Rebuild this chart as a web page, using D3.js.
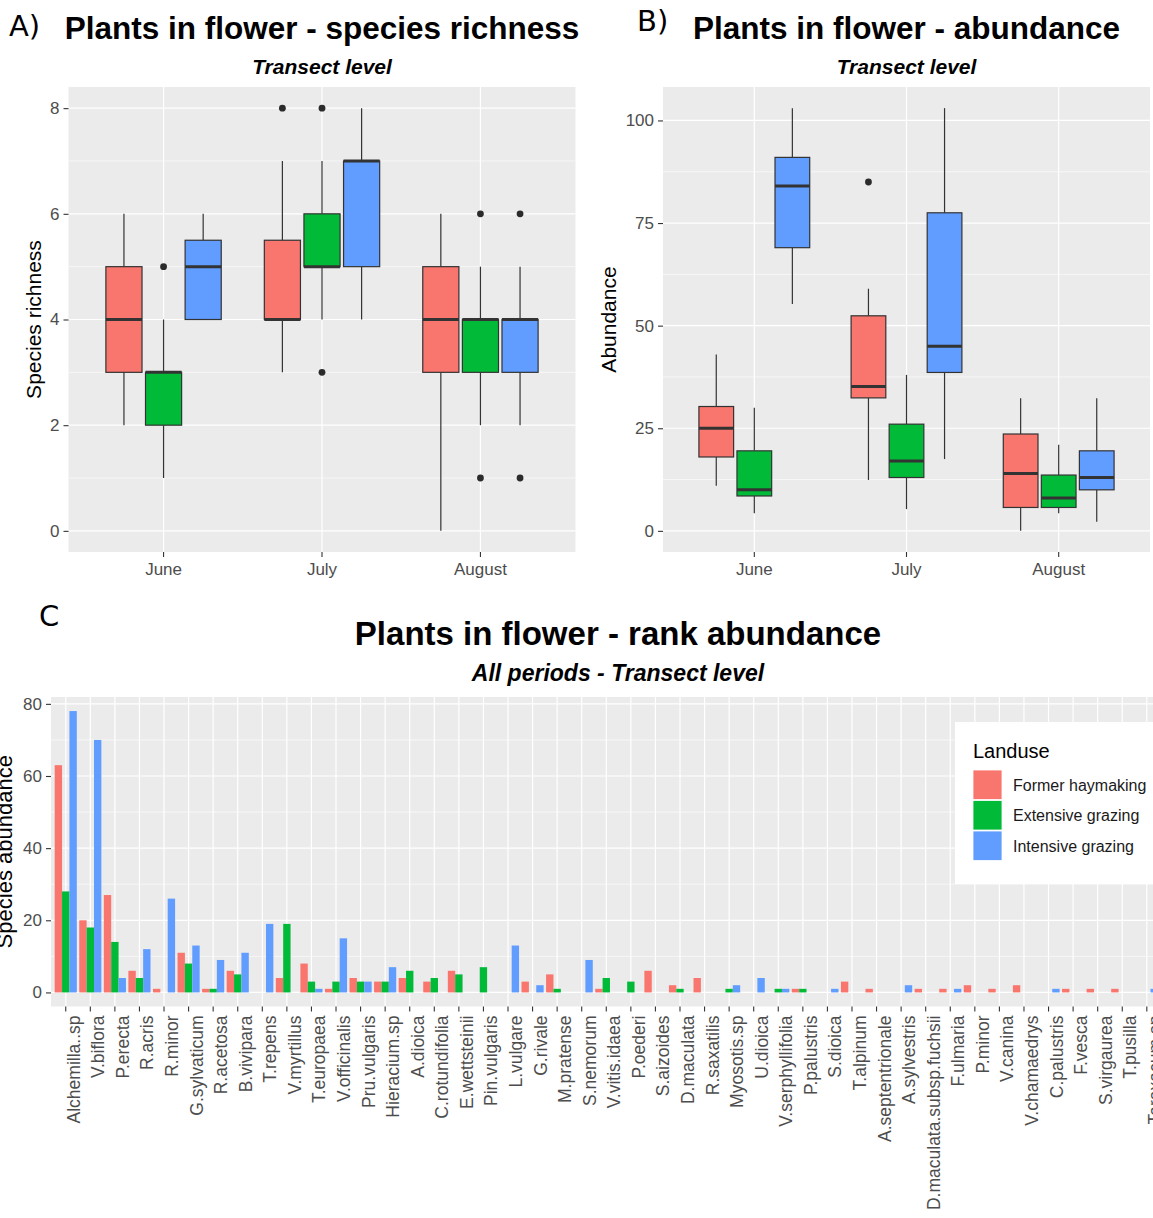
<!DOCTYPE html>
<html>
<head>
<meta charset="utf-8">
<script src="https://cdn.jsdelivr.net/npm/d3@7"></script>
<style>
  body { margin: 0; background: #fff; }
  svg text { font-family: "Liberation Sans", Arial, sans-serif; }
</style>
</head>
<body>
<svg id="fig" width="1153" height="1218"></svg>
<script>
// ---- data ----
const months = ["June", "July", "August"];
const landuse = ["Former haymaking", "Extensive grazing", "Intensive grazing"];
const landuseColors = ["#F8766D", "#00BA38", "#619CFF"];

// box stats, rows = landuse, cols = month
const richLow  = [[2, 3, 0], [1, 4, 2], [4, 4, 2]];
const richQ1   = [[3, 4, 3], [2, 5, 3], [4, 5, 3]];
const richMed  = [[4, 4, 4], [3, 5, 4], [5, 7, 4]];
const richQ3   = [[5, 5.5, 5], [3, 6, 4], [5.5, 7, 4]];
const richHigh = [[6, 7, 6], [4, 7, 5], [6, 8, 5]];
const richOut  = [[[], [8], []], [[5], [8, 3], [6, 1]], [[], [], [6, 1]]];
const richTicks = [0, 2, 4, 6, 8];

const abunLow  = [[11, 12.4, 0], [4.3, 5.3, 4.3], [55.3, 17.5, 2.2]];
const abunQ1   = [[18, 32.4, 5.7], [8.5, 13, 5.7], [69, 38.6, 10]];
const abunMed  = [[25, 35.2, 14], [10, 17, 8], [84, 45, 13]];
const abunQ3   = [[30.3, 52.4, 23.6], [19.5, 26, 13.6], [91, 77.5, 19.5]];
const abunHigh = [[43, 59, 32.3], [30, 38, 21], [103, 103, 32.3]];
const abunOut  = [[[], [85], []], [[], [], []], [[], [], []]];
const abunTicks = [0, 25, 50, 75, 100];

const species = ["Alchemilla..sp", "V.biflora", "P.erecta", "R.acris", "R.minor",
  "G.sylvaticum", "R.acetosa", "B.vivipara", "T.repens", "V.myrtillus",
  "T.europaea", "V.officinalis", "Pru.vulgaris", "Hieracium.sp", "A.dioica",
  "C.rotundifolia", "E.wettsteinii", "Pin.vulgaris", "L.vulgare", "G.rivale",
  "M.pratense", "S.nemorum", "V.vitis.idaea", "P.oederi", "S.aizoides",
  "D.maculata", "R.saxatilis", "Myosotis.sp", "U.dioica", "V.serphyllifolia",
  "P.palustris", "S.dioica", "T.alpinum", "A.septentrionale", "A.sylvestris",
  "D.maculata.subsp.fuchsii", "F.ulmaria", "P.minor", "V.canina", "V.chamaedrys",
  "C.palustris", "F.vesca", "S.virgaurea", "T.pusilla", "Taraxacum.sp"];
const haymaking = [63, 20, 27, 6, 1, 11, 1, 6, 0, 4, 8, 1, 4, 3, 4, 3, 6, 0, 0, 3, 5, 0, 1, 0, 6,
  2, 4, 0, 0, 0, 1, 0, 3, 1, 0, 1, 1, 2, 1, 2, 0, 1, 1, 1, 0];
const extensive = [28, 18, 14, 4, 0, 8, 1, 5, 0, 19, 3, 3, 3, 3, 6, 4, 5, 7, 0, 0, 1, 0, 4, 3, 0,
  1, 0, 1, 0, 1, 1, 0, 0, 0, 0, 0, 0, 0, 0, 0, 0, 0, 0, 0, 0];
const intensive = [78, 70, 4, 12, 26, 13, 9, 11, 19, 0, 1, 15, 3, 7, 0, 0, 0, 0, 13, 2, 0, 9, 0, 0, 0,
  0, 0, 2, 4, 1, 0, 1, 0, 0, 2, 0, 1, 0, 0, 0, 1, 0, 0, 0, 1];
const barTicks = [0, 20, 40, 60, 80];

// ---- helpers ----
const svg = d3.select("#fig");
const PANEL = "#EBEBEB", TICKCOL = "#333333", TXT = "#4D4D4D";

function expand(lo, hi) {
  const d = (hi - lo) * 0.05;
  return [lo - d, hi + d];
}

function grid(g, x0, x1, y0, y1, y, major, xs) {
  g.append("rect").attr("x", x0).attr("y", y0).attr("width", x1 - x0).attr("height", y1 - y0).attr("fill", PANEL);
  const minor = d3.pairs(major).map(p => (p[0] + p[1]) / 2);
  g.selectAll(".ymin").data(minor).join("line")
    .attr("x1", x0).attr("x2", x1).attr("y1", d => y(d)).attr("y2", d => y(d))
    .attr("stroke", "#fff").attr("stroke-width", 0.6);
  g.selectAll(".ymaj").data(major).join("line")
    .attr("x1", x0).attr("x2", x1).attr("y1", d => y(d)).attr("y2", d => y(d))
    .attr("stroke", "#fff").attr("stroke-width", 1.2);
  g.selectAll(".xmaj").data(xs).join("line")
    .attr("x1", d => d).attr("x2", d => d).attr("y1", y0).attr("y2", y1)
    .attr("stroke", "#fff").attr("stroke-width", 1.2);
}

function styleAxis(ax) {
  ax.select(".domain").remove();
  ax.selectAll(".tick line").attr("stroke", TICKCOL).attr("stroke-width", 1.1);
  ax.selectAll(".tick text").attr("fill", TXT).style("font-size", "17px");
}

function boxPanel(p, lo, q1, med, q3, hi, out, ticks, yTitle, titleX) {
  const g = svg.append("g");
  const all = [lo, hi, out].flat(3);
  const y = d3.scaleLinear().domain(expand(d3.min(all), d3.max(all))).range([p.y1, p.y0]);
  const x = d3.scaleBand().domain(months).range([p.x0, p.x1]).paddingOuter(0.1).paddingInner(0);
  const step = x.step();
  const dodge = d3.scaleBand().domain(landuse).range([-0.375 * step, 0.375 * step]);
  const bw = 0.228 * step;

  grid(g, p.x0, p.x1, p.y0, p.y1, y, ticks, months.map(m => x(m) + x.bandwidth() / 2));

  landuse.forEach((lu, i) => {
    months.forEach((m, j) => {
      const cx = x(m) + x.bandwidth() / 2 + dodge(lu) + dodge.bandwidth() / 2;
      const b = g.append("g");
      b.append("line").attr("x1", cx).attr("x2", cx).attr("y1", y(hi[i][j])).attr("y2", y(q3[i][j]))
        .attr("stroke", TICKCOL).attr("stroke-width", 1.2);
      b.append("line").attr("x1", cx).attr("x2", cx).attr("y1", y(q1[i][j])).attr("y2", y(lo[i][j]))
        .attr("stroke", TICKCOL).attr("stroke-width", 1.2);
      b.append("rect").attr("x", cx - bw / 2).attr("width", bw)
        .attr("y", y(q3[i][j])).attr("height", y(q1[i][j]) - y(q3[i][j]))
        .attr("fill", landuseColors[i]).attr("stroke", TICKCOL).attr("stroke-width", 1.2);
      b.append("line").attr("x1", cx - bw / 2).attr("x2", cx + bw / 2)
        .attr("y1", y(med[i][j])).attr("y2", y(med[i][j]))
        .attr("stroke", TICKCOL).attr("stroke-width", 3);
      b.selectAll("circle").data(out[i][j]).join("circle")
        .attr("cx", cx).attr("cy", d => y(d)).attr("r", 3.4).attr("fill", "#2b2b2b");
    });
  });

  const ay = g.append("g").attr("transform", `translate(${p.x0},0)`)
    .call(d3.axisLeft(y).tickValues(ticks).tickSize(5).tickPadding(4));
  styleAxis(ay);
  const ax = g.append("g").attr("transform", `translate(0,${p.y1})`)
    .call(d3.axisBottom(x).tickSize(5).tickPadding(6));
  styleAxis(ax);

  g.append("text").attr("transform", `translate(${titleX},${(p.y0 + p.y1) / 2}) rotate(-90)`)
    .attr("text-anchor", "middle").style("font-size", "21px").attr("fill", "#000").text(yTitle);
  return g;
}

// ---- panel A ----
const pA = { x0: 68.5, x1: 575.5, y0: 87, y1: 552 };
boxPanel(pA, richLow, richQ1, richMed, richQ3, richHigh, richOut, richTicks, "Species richness", 40.5);
// ---- panel B ----
const pB = { x0: 663, x1: 1150, y0: 87, y1: 552 };
boxPanel(pB, abunLow, abunQ1, abunMed, abunQ3, abunHigh, abunOut, abunTicks, "Abundance", 616);

// titles
function titles(cx, y1, t1, s1, y2, t2, s2) {
  svg.append("text").attr("x", cx).attr("y", y1).attr("text-anchor", "middle")
    .style("font-size", s1 + "px").style("font-weight", "bold").text(t1);
  svg.append("text").attr("x", cx).attr("y", y2).attr("text-anchor", "middle")
    .style("font-size", s2 + "px").style("font-weight", "bold").style("font-style", "italic").text(t2);
}
titles((pA.x0 + pA.x1) / 2, 39, "Plants in flower - species richness", 31.5, 74, "Transect level", 21);
titles((pB.x0 + pB.x1) / 2, 39, "Plants in flower - abundance", 31.5, 74, "Transect level", 21);

function tag(x, y, t) {
  svg.append("text").attr("x", x).attr("y", y).style("font-family", "'DejaVu Sans'")
    .style("font-size", "29px").text(t);
}
tag(9, 36, "A)");
tag(637, 31, "B)");
tag(39, 626, "C");

// ---- panel C ----
const stepC = 24.57;
const pC = { x0: 51, y0: 697, y1: 1006.5 };
pC.x1 = pC.x0 + (species.length + 0.2) * stepC;
const gC = svg.append("g");
const series = [haymaking, extensive, intensive];
const yC = d3.scaleLinear().domain(expand(0, d3.max(series.flat()))).range([pC.y1, pC.y0]);
const xC = d3.scaleBand().domain(species).range([pC.x0, pC.x1]).paddingOuter(0.1).paddingInner(0);
const xSub = d3.scaleBand().domain(landuse).range([-0.45 * xC.step(), 0.45 * xC.step()]);
grid(gC, pC.x0, pC.x1 + 30, pC.y0, pC.y1, yC, barTicks, species.map(s => xC(s) + xC.bandwidth() / 2));

landuse.forEach((lu, i) => {
  gC.append("g").selectAll("rect").data(species.map((s, k) => ({ s, v: series[i][k] })).filter(d => d.v > 0))
    .join("rect")
    .attr("x", d => xC(d.s) + xC.bandwidth() / 2 + xSub(lu))
    .attr("width", xSub.bandwidth())
    .attr("y", d => yC(d.v))
    .attr("height", d => yC(0) - yC(d.v))
    .attr("fill", landuseColors[i]);
});

const ayC = gC.append("g").attr("transform", `translate(${pC.x0},0)`)
  .call(d3.axisLeft(yC).tickValues(barTicks).tickSize(5).tickPadding(4));
styleAxis(ayC);
const axC = gC.append("g").attr("transform", `translate(0,${pC.y1})`)
  .call(d3.axisBottom(xC).tickSize(5));
styleAxis(axC);
axC.selectAll(".tick text")
  .attr("transform", "rotate(-90)")
  .attr("text-anchor", "end")
  .attr("x", -9).attr("y", 0).attr("dy", "0.8em")
  .style("font-size", "17.5px");

gC.append("text").attr("transform", `translate(11.5,${(pC.y0 + pC.y1) / 2}) rotate(-90)`)
  .attr("text-anchor", "middle").style("font-size", "22px").text("Species abundance");

titles(618, 645, "Plants in flower - rank abundance", 33, 681, "All periods - Transect level", 23);

// legend
const lg = svg.append("g").attr("transform", "translate(955,722)");
lg.append("rect").attr("width", 230).attr("height", 162).attr("fill", "#fff");
lg.append("text").attr("x", 18).attr("y", 36).style("font-size", "20px").text("Landuse");
landuse.forEach((lu, i) => {
  const yy = 48 + i * 30.5;
  lg.append("rect").attr("x", 18).attr("y", yy).attr("width", 29).attr("height", 29.5)
    .attr("fill", landuseColors[i]).attr("stroke", "#fff").attr("stroke-width", 0.8);
  lg.append("text").attr("x", 58).attr("y", yy + 15).attr("dy", "0.35em")
    .style("font-size", "16px").attr("fill", "#1a1a1a").text(lu);
});
</script>
</body>
</html>
